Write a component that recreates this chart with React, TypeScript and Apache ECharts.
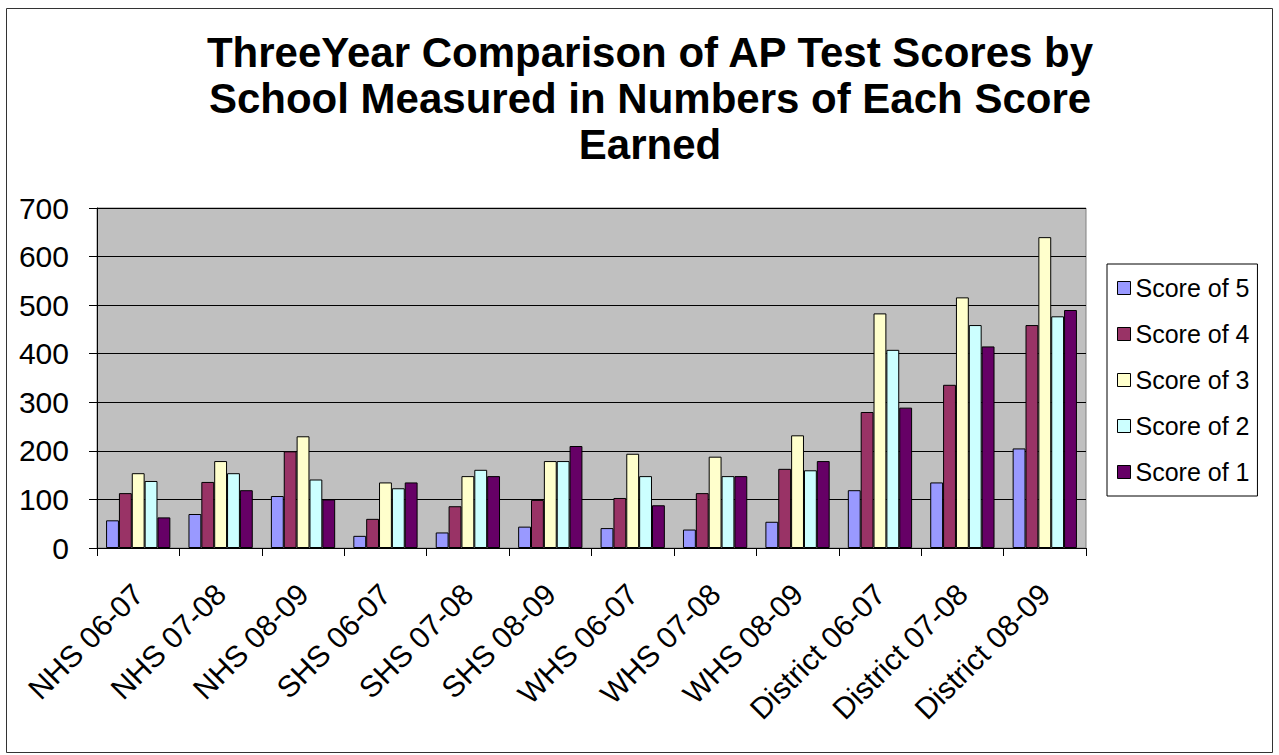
import React, { useEffect, useRef } from "react";
import * as echarts from "echarts";

const titleText = "ThreeYear Comparison of AP Test Scores by\nSchool Measured in Numbers of Each Score\nEarned";
const categories = [
  "NHS 06-07", "NHS 07-08", "NHS 08-09",
  "SHS 06-07", "SHS 07-08", "SHS 08-09",
  "WHS 06-07", "WHS 07-08", "WHS 08-09",
  "District 06-07", "District 07-08", "District 08-09",
];
const seriesNames = ["Score of 5", "Score of 4", "Score of 3", "Score of 2", "Score of 1"];
const score5 = [57, 70, 107, 25, 32, 44, 41, 38, 54, 119, 135, 205];
const score4 = [113, 136, 199, 60, 86, 99, 103, 113, 163, 280, 336, 459];
const score3 = [154, 179, 230, 135, 148, 179, 194, 188, 232, 483, 516, 640];
const score2 = [138, 154, 141, 123, 161, 179, 148, 148, 160, 408, 459, 477];
const score1 = [63, 119, 100, 135, 148, 210, 88, 148, 179, 289, 415, 490];
const colors = ["#9999FF", "#993366", "#FFFFCC", "#CCFFFF", "#660066"];
const yTicks = { min: 0, max: 700, interval: 100 };

export default function App() {
  const ref = useRef<HTMLDivElement>(null);
  useEffect(() => {
    if (!ref.current) return;
    const chart = echarts.init(ref.current, null, { renderer: "svg" });
    const values = [score5, score4, score3, score2, score1];
    const font = "'Liberation Sans', Arial, sans-serif";
    chart.setOption({
      animation: false,
      backgroundColor: "#ffffff",
      title: {
        text: titleText,
        left: 650,
        textAlign: "center",
        top: 29,
        padding: 0,
        textStyle: {
          fontFamily: font,
          fontWeight: "bold",
          fontSize: 42,
          lineHeight: 46,
          color: "#000",
        },
      },
      graphic: [
        {
          type: "rect",
          shape: { x: 6.5, y: 8.5, width: 1266, height: 744 },
          style: { fill: "none", stroke: "#333", lineWidth: 1 },
          silent: true,
        },
      ],
      legend: {
        orient: "vertical",
        left: 1107,
        top: 264,
        padding: [11, 8, 11, 10],
        itemWidth: 13,
        itemHeight: 13,
        itemGap: 20,
        icon: "rect",
        borderColor: "#000",
        borderWidth: 1,
        backgroundColor: "#fff",
        borderRadius: 0,
        itemStyle: { borderColor: "#000", borderWidth: 1 },
        textStyle: { fontFamily: font, fontSize: 25, lineHeight: 26, color: "#000" },
        data: seriesNames,
      },
      grid: {
        left: 97,
        right: 193,
        top: 208,
        bottom: 207,
        show: true,
        backgroundColor: "#C0C0C0",
        borderColor: "#808080",
        borderWidth: 1,
        containLabel: false,
      },
      xAxis: {
        type: "category",
        data: categories,
        boundaryGap: true,
        axisLine: { lineStyle: { color: "#000", width: 1 } },
        axisTick: { show: true, alignWithLabel: false, length: 8, lineStyle: { color: "#000" } },
        axisLabel: {
          rotate: 45,
          interval: 0,
          margin: 41,
          fontFamily: font,
          fontSize: 30,
          color: "#000",
        },
        splitLine: { show: false },
      },
      yAxis: {
        type: "value",
        min: yTicks.min,
        max: yTicks.max,
        interval: yTicks.interval,
        axisLine: { show: true, lineStyle: { color: "#000", width: 1 } },
        axisTick: { show: true, length: 8, lineStyle: { color: "#000" } },
        axisLabel: { margin: 28, fontFamily: font, fontSize: 30, color: "#000" },
        splitLine: { show: true, lineStyle: { color: "#000", width: 1 } },
      },
      series: seriesNames.map((name, i) => ({
        name,
        type: "bar",
        data: values[i],
        barGap: "0%",
        barCategoryGap: "22%",
        itemStyle: { color: colors[i], borderColor: "#000", borderWidth: 1 },
      })),
    });
    return () => chart.dispose();
  }, []);
  return (
    <div
      ref={ref}
      style={{ position: "fixed", left: 0, top: 0, width: 1279, height: 755, background: "#fff" }}
    />
  );
}
